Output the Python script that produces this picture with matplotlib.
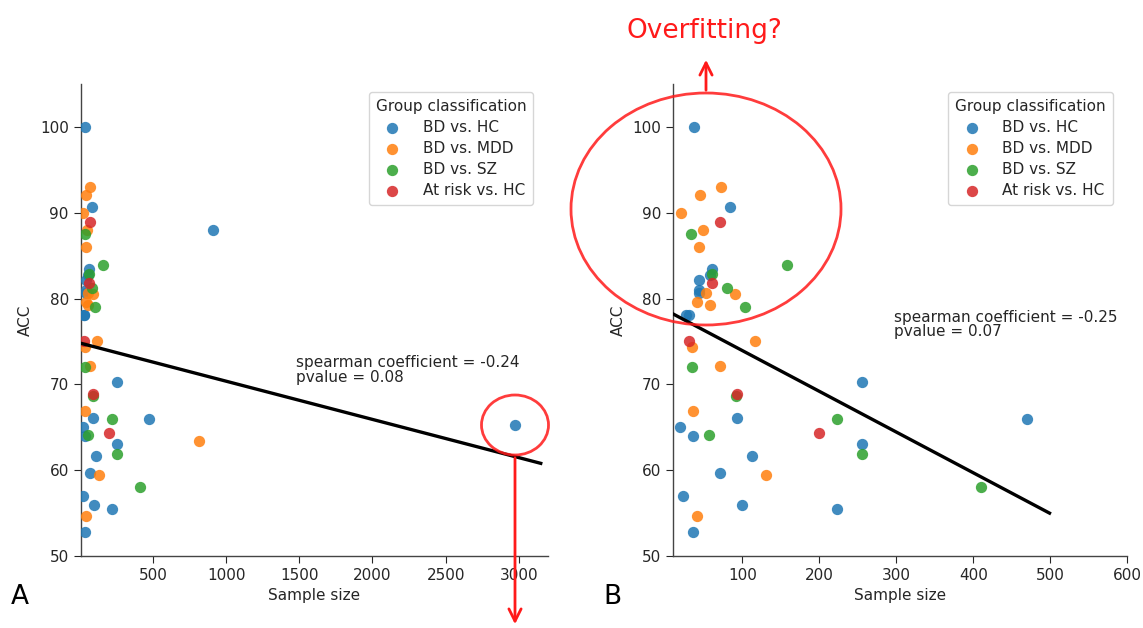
import numpy as np
import matplotlib.pyplot as plt
from matplotlib.patches import Ellipse, FancyArrowPatch

# ─── data ────────────────────────────────────────────────────
groups = ['BD vs. HC', 'BD vs. MDD', 'BD vs. SZ', 'At risk vs. HC']
colors = ['#1f77b4', '#ff7f0e', '#2ca02c', '#d62728']

hc_n   = [37, 84, 60, 58, 44, 43, 43, 26, 31, 255, 93, 19, 36, 255, 113, 71, 23, 100, 223, 36, 470]
hc_acc = [100, 90.7, 83.5, 82.8, 82.2, 81.0, 80.7, 78.1, 78.1, 70.3, 66.1, 65.0, 64.0, 63.0, 61.7, 59.7, 57.0, 55.9, 55.5, 52.8, 66.0]

mdd_n   = [20, 45, 72, 49, 43, 53, 90, 41, 58, 116, 34, 71, 36, 131, 41]
mdd_acc = [90.0, 92.1, 93.0, 88.0, 86.0, 80.6, 80.5, 79.6, 79.3, 75.0, 74.3, 72.2, 66.9, 59.4, 54.7]

sz_n   = [33, 61, 158, 80, 103, 34, 91, 57, 223, 255, 410]
sz_acc = [87.5, 82.9, 83.9, 81.2, 79.0, 72.0, 68.6, 64.1, 66.0, 61.9, 58.0]

risk_n   = [71, 60, 31, 93, 200]
risk_acc = [88.9, 81.8, 75.0, 68.9, 64.3]

# studies only shown in panel A (sample size > 500)
big_n     = [911, 815, 2975]
big_acc   = [88.0, 63.4, 65.3]
big_group = [0, 1, 0]

# fitted lines (end points)
fit_a_x, fit_a_y = [5, 3150], [74.8, 60.8]
fit_b_x, fit_b_y = [10, 499], [78.2, 55.0]

stats_a = 'spearman coefficient = -0.24\npvalue = 0.08'
stats_b = 'spearman coefficient = -0.25\npvalue = 0.07'

# ─── figure ──────────────────────────────────────────────────
plt.rcParams['font.family'] = 'DejaVu Sans'
txt_c = '#262626'
fs = 11
fig = plt.figure(figsize=(11.43, 6.28), dpi=100)
ax_a = fig.add_axes([0.0705, 0.1146, 0.4090, 0.7516])
ax_b = fig.add_axes([0.5890, 0.1146, 0.3972, 0.7516])

all_n = [hc_n, mdd_n, sz_n, risk_n]
all_acc = [hc_acc, mdd_acc, sz_acc, risk_acc]

for ax, big in [(ax_a, True), (ax_b, False)]:
    for g in range(4):
        xs = list(all_n[g])
        ys = list(all_acc[g])
        if big:
            xs += [n for n, gg in zip(big_n, big_group) if gg == g]
            ys += [a for a, gg in zip(big_acc, big_group) if gg == g]
        ax.scatter(xs, ys, s=66, color=colors[g], alpha=0.85, linewidths=0,
                   label=groups[g], zorder=3)
    for sp in ['top', 'right']:
        ax.spines[sp].set_visible(False)
    for sp in ['left', 'bottom']:
        ax.spines[sp].set_color('#444444')
        ax.spines[sp].set_linewidth(1.0)
    ax.set_ylim(50, 105)
    ax.set_yticks(np.arange(50, 101, 10))
    ax.tick_params(labelsize=fs, colors=txt_c, length=5)
    ax.set_xlabel('Sample size', fontsize=fs, color=txt_c, labelpad=4)
    ax.set_ylabel('ACC', fontsize=fs, color=txt_c, labelpad=5)
    leg = ax.legend(title='Group classification', loc='upper right',
                    bbox_to_anchor=(0.985, 1.0), fontsize=fs,
                    title_fontsize=fs, handletextpad=1.0,
                    borderpad=0.45, labelspacing=0.4, frameon=True)
    leg.get_frame().set_edgecolor('#cccccc')
    leg.get_title().set_color(txt_c)
    for t in leg.get_texts():
        t.set_color(txt_c)

ax_a.plot(fit_a_x, fit_a_y, color='black', lw=2.4, zorder=4)
ax_a.set_xlim(5, 3200)
ax_a.set_xticks(np.arange(500, 3001, 500))
ax_a.text(1480, 73.4, stats_a, fontsize=fs, color=txt_c, va='top',
          linespacing=0.95)

ax_b.plot(fit_b_x, fit_b_y, color='black', lw=2.4, zorder=4)
ax_b.set_xlim(10, 600)
ax_b.set_xticks(np.arange(100, 601, 100))
ax_b.text(297, 78.7, stats_b, fontsize=fs, color=txt_c, va='top',
          linespacing=0.95)

# ─── panel letters ───────────────────────────────────────────
fig.text(11 / 1143, 1 - 597 / 628, 'A', fontsize=19, va='center')
fig.text(603 / 1143, 1 - 597 / 628, 'B', fontsize=19, va='center')

# ─── red annotations (figure pixel positions) ────────────────
W, H = 1143, 628
red = '#ff1a1a'

def fx(p):
    return p / W

def fy(p):
    return 1 - p / H

ell_b = Ellipse((fx(706), fy(209)), 270 / W, 232 / H, transform=fig.transFigure,
                fill=False, edgecolor=red, lw=2.0, alpha=0.85, zorder=10)
fig.add_artist(ell_b)
ell_a = Ellipse((fx(515), fy(425)), 67 / W, 60 / H, transform=fig.transFigure,
                fill=False, edgecolor=red, lw=2.0, alpha=0.85, zorder=10)
fig.add_artist(ell_a)

arr_up = FancyArrowPatch((fx(706), fy(93)), (fx(706), fy(57)),
                         transform=fig.transFigure, arrowstyle='->',
                         mutation_scale=22, color=red, lw=2.0)
fig.add_artist(arr_up)
arr_dn = FancyArrowPatch((fx(515), fy(455)), (fx(515), fy(627)),
                         transform=fig.transFigure, arrowstyle='->',
                         mutation_scale=22, color=red, lw=2.0)
fig.add_artist(arr_dn)

fig.text(fx(704), fy(31), 'Overfitting?', color=red, fontsize=19,
         ha='center', va='center')

plt.savefig('out.png', dpi=100)
